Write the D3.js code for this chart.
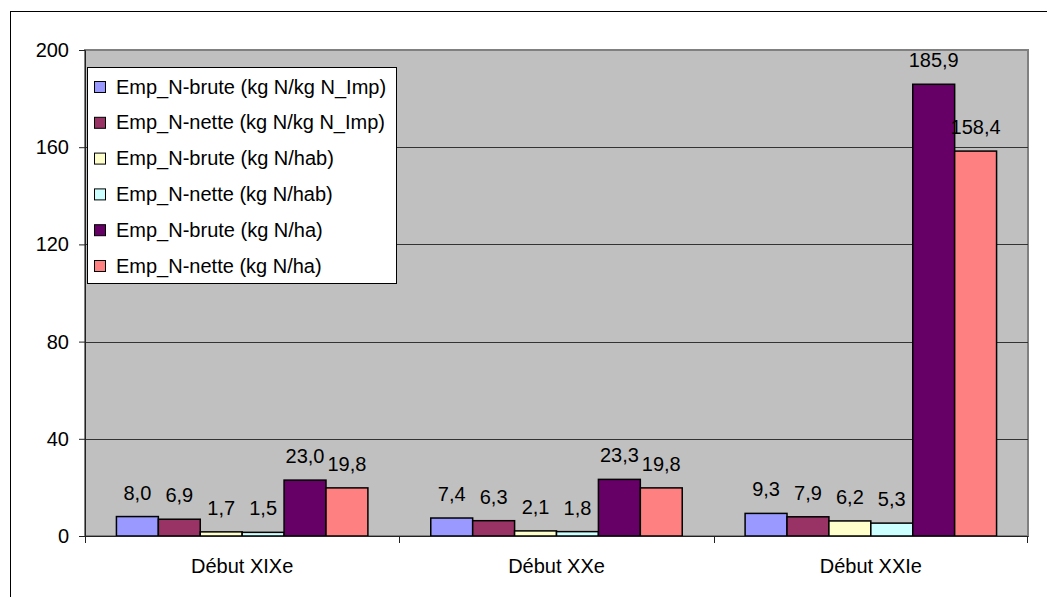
<!DOCTYPE html>
<html>
<head>
<meta charset="utf-8">
<script src="https://cdn.jsdelivr.net/npm/d3@7"></script>
<style>
html,body{margin:0;padding:0;background:#fff;}
svg{display:block;font-family:"Liberation Sans",Arial,sans-serif;}
</style>
</head>
<body>
<svg id="chart" width="1047" height="597"></svg>
<script>
const categories = ["Début XIXe", "Début XXe", "Début XXIe"];
const seriesNames = [
  "Emp_N-brute (kg N/kg N_Imp)",
  "Emp_N-nette (kg N/kg N_Imp)",
  "Emp_N-brute (kg N/hab)",
  "Emp_N-nette (kg N/hab)",
  "Emp_N-brute (kg N/ha)",
  "Emp_N-nette (kg N/ha)"
];
const seriesColors = ["#9999FF", "#993366", "#FFFFCC", "#CCFFFF", "#660066", "#FF8080"];
const brute_kgN_Imp = [8.0, 7.4, 9.3];
const nette_kgN_Imp = [6.9, 6.3, 7.9];
const brute_hab = [1.7, 2.1, 6.2];
const nette_hab = [1.5, 1.8, 5.3];
const brute_ha = [23.0, 23.3, 185.9];
const nette_ha = [19.8, 19.8, 158.4];
const seriesValues = [brute_kgN_Imp, nette_kgN_Imp, brute_hab, nette_hab, brute_ha, nette_ha];
const yTicks = [0, 40, 80, 120, 160, 200];

const svg = d3.select("#chart");
const L = 85, R = 1028, T = 50, B = 536;

// outer border
svg.append("rect").attr("x", 10.5).attr("y", 11.5).attr("width", 1100).attr("height", 700)
  .attr("fill", "#fff").attr("stroke", "#000").attr("stroke-width", 1);

const x0 = d3.scaleBand().domain(categories).range([L, R]).paddingInner(0).paddingOuter(0);
const innerPad = x0.bandwidth() * 1.5 / 7.5 / 2;
const x1 = d3.scaleBand().domain(d3.range(seriesNames.length))
  .range([innerPad, x0.bandwidth() - innerPad]);
const y = d3.scaleLinear().domain([0, 200]).range([B, T]);

// plot area
svg.append("rect").attr("x", L).attr("y", T).attr("width", R - L).attr("height", B - T)
  .attr("fill", "#C0C0C0").attr("stroke", "#808080").attr("stroke-width", 2);

// gridlines
svg.append("g").selectAll("line").data(yTicks.filter(d => d > 0 && d < 200)).join("line")
  .attr("x1", L).attr("x2", R).attr("y1", d => Math.round(y(d)) + 0.5).attr("y2", d => Math.round(y(d)) + 0.5)
  .attr("stroke", "#333").attr("stroke-width", 1);

// y axis
const yAxis = d3.axisLeft(y).tickValues(yTicks).tickSize(6).tickPadding(10).tickFormat(d3.format("d"));
const gy = svg.append("g").attr("transform", `translate(${L},0)`).call(yAxis);
gy.select(".domain").attr("stroke", "#222");
gy.selectAll(".tick line").attr("stroke", "#222");
gy.selectAll("text").attr("font-size", 20).attr("font-family", "Liberation Sans, Arial, sans-serif").attr("fill", "#000");

// bars
const fmt = v => d3.format(".1f")(v).replace(".", ",");
const groups = svg.append("g").selectAll("g").data(categories).join("g")
  .attr("transform", d => `translate(${x0(d)},0)`);
groups.selectAll("rect").data((c, ci) => seriesValues.map((s, si) => ({si, v: s[ci]}))).join("rect")
  .attr("x", d => x1(d.si)).attr("width", x1.bandwidth())
  .attr("y", d => y(d.v)).attr("height", d => B - y(d.v))
  .attr("fill", d => seriesColors[d.si]).attr("stroke", "#000").attr("stroke-width", 1.5);
groups.selectAll("text").data((c, ci) => seriesValues.map((s, si) => ({si, v: s[ci]}))).join("text")
  .attr("x", d => x1(d.si) + x1.bandwidth() / 2).attr("y", d => y(d.v) - 17)
  .attr("text-anchor", "middle").attr("font-size", 20).attr("fill", "#000")
  .text(d => fmt(d.v));

// x axis
const xAxis = d3.axisBottom(x0).tickSize(0).tickPadding(23);
const gx = svg.append("g").attr("transform", `translate(0,${B})`).call(xAxis);
gx.select(".domain").attr("stroke", "#222");
gx.selectAll("text").attr("font-size", 20).attr("font-family", "Liberation Sans, Arial, sans-serif").attr("fill", "#000");
// category separator ticks
const sepX = categories.map(c => x0(c)).concat([R - 1]);
svg.append("g").selectAll("line").data(sepX).join("line")
  .attr("x1", d => Math.round(d) + 0.5).attr("x2", d => Math.round(d) + 0.5)
  .attr("y1", B).attr("y2", B + 7).attr("stroke", "#222");

// legend
const lg = svg.append("g");
lg.append("rect").attr("x", 87.5).attr("y", 67.5).attr("width", 309).attr("height", 216)
  .attr("fill", "#fff").attr("stroke", "#000").attr("stroke-width", 1);
const items = lg.selectAll("g").data(seriesNames).join("g")
  .attr("transform", (d, i) => `translate(0,${86.5 + i * 35.8})`);
items.append("rect").attr("x", 94.5).attr("y", -5).attr("width", 11).attr("height", 11)
  .attr("fill", (d, i) => seriesColors[i]).attr("stroke", "#000").attr("stroke-width", 1);
items.append("text").attr("x", 116).attr("y", 7).attr("font-size", 20).attr("fill", "#000")
  .text(d => d);
</script>
</body>
</html>
